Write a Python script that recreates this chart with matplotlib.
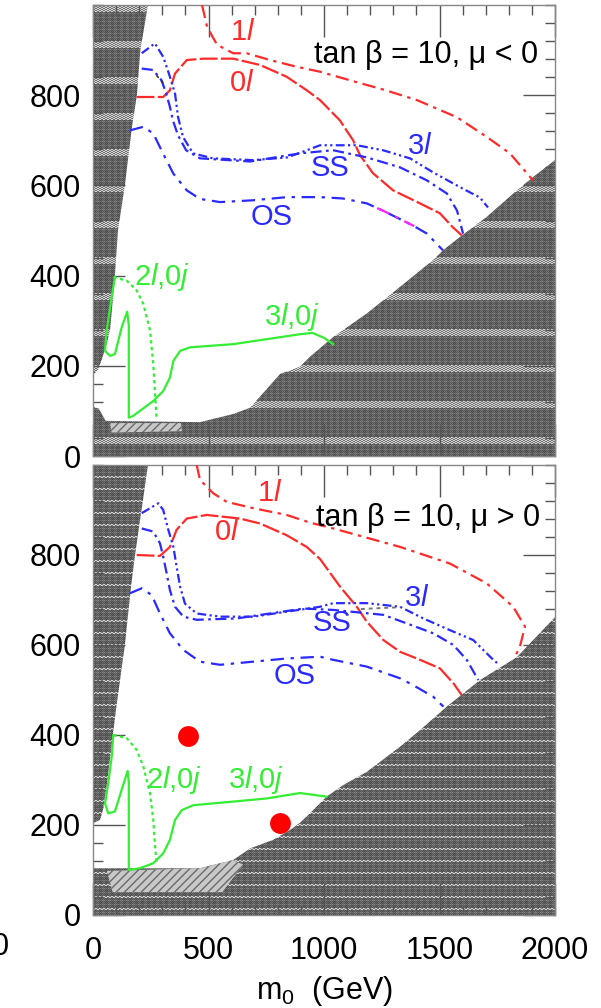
import numpy as np
import matplotlib
matplotlib.use("Agg")
from matplotlib import pyplot as plt
from matplotlib.patches import Polygon

plt.rcParams['font.family'] = ['Liberation Sans', 'DejaVu Sans']
plt.rcParams['mathtext.fontset'] = 'custom'
plt.rcParams['mathtext.rm'] = 'Liberation Sans'
plt.rcParams['mathtext.it'] = 'Liberation Sans:italic'

RED = '#ff2a2a'
BLUE = '#2a2aff'
GREEN = '#33ee33'

# ---------------- excluded regions (m0, m1/2) ----------------
left_top_x = [0, 238, 205, 190, 168, 138, 108, 95, 74, 52, 22, 0]
left_top_y = [1000, 1000, 900, 800, 727, 600, 500, 400, 279, 235, 191, 180]
bottom_top_x = [0, 0, 25, 55, 463, 606, 680, 810, 896, 939, 1040, 1185, 1329, 1473, 1517, 1589, 1704, 1819, 1906, 2000, 2000]
bottom_top_y = [0, 110, 105, 78, 75, 93, 107, 182, 198, 220, 264, 316, 375, 435, 457, 486, 530, 582, 619, 656, 0]
hatch_top_x = [74, 80, 385, 380]
hatch_top_y = [73, 52, 55, 73]

left_bot_x = [0, 238, 212, 182, 164, 138, 104, 87, 61, 43, 30, 0]
left_bot_y = [1000, 1000, 907, 800, 727, 600, 473, 404, 293, 233, 211, 204]
bottom_bot_x = [0, 0, 463, 606, 680, 780, 853, 896, 939, 1011, 1084, 1185, 1329, 1416, 1531, 1675, 1835, 2000, 2000]
bottom_bot_y = [0, 104, 104, 122, 148, 167, 189, 205, 226, 263, 289, 318, 374, 411, 463, 522, 573, 662, 0]
hatch_bot_x = [60, 85, 560, 650, 606, 463]
hatch_bot_y = [98, 51, 51, 112, 122, 104]

# ---------------- mu < 0 contours ----------------
neg_1l_x = [472, 494, 537, 607, 665, 766, 882, 983, 1113, 1260, 1403, 1576, 1706, 1805, 1905]
neg_1l_y = [1000, 951, 912, 893, 893, 878, 863, 852, 833, 812, 789, 751, 707, 671, 611]
neg_0l_x = [189, 304, 333, 355, 406, 478, 607, 723, 838, 925, 983, 1069, 1126, 1156, 1212, 1299, 1416, 1502, 1558, 1597]
neg_0l_y = [796, 796, 811, 848, 878, 881, 881, 867, 841, 811, 789, 744, 700, 667, 627, 589, 560, 538, 507, 489]
neg_3l_x = [211, 268, 304, 333, 355, 368, 390, 433, 519, 693, 840, 926, 983, 1039, 1143, 1255, 1372, 1472, 1589, 1675, 1710]
neg_3l_y = [893, 915, 885, 841, 804, 752, 707, 671, 660, 656, 662, 678, 689, 689, 689, 678, 660, 629, 596, 573, 551]
neg_ss_x = [211, 260, 297, 319, 333, 346, 368, 403, 463, 680, 896, 1039, 1186, 1329, 1446, 1532, 1576, 1602]
neg_ss_y = [859, 856, 833, 800, 774, 744, 711, 678, 660, 653, 671, 678, 662, 640, 611, 582, 544, 493]
neg_os_x = [160, 218, 261, 304, 348, 406, 463, 550, 693, 840, 983, 1082, 1186, 1255, 1385, 1446, 1515]
neg_os_y = [722, 730, 715, 670, 626, 589, 570, 563, 567, 574, 574, 571, 560, 544, 511, 493, 456]
neg_os_magenta = (1230, 1390)
neg_2l_x = [88, 146, 189, 218, 247, 261, 268, 275]
neg_2l_y = [396, 389, 367, 337, 278, 204, 144, 85]
neg_3l0j_x = [95, 81, 59, 52, 74, 95, 124, 148, 155, 155, 174, 261, 304, 333, 348, 377, 420, 607, 896, 950, 1000, 1040]
neg_3l0j_y = [397, 353, 278, 233, 222, 226, 285, 320, 290, 85, 89, 122, 144, 174, 211, 233, 241, 248, 270, 273, 262, 248]
neg_black_x = [275, 312]
neg_black_y = [844, 822]

# ---------------- mu > 0 contours ----------------
pos_1l_x = [449, 463, 521, 579, 694, 838, 939, 1040, 1329, 1545, 1704, 1819, 1870, 1848, 1827]
pos_1l_y = [1000, 967, 937, 918, 904, 889, 872, 859, 818, 781, 737, 685, 641, 596, 574]
pos_0l_x = [189, 290, 333, 362, 406, 492, 636, 723, 838, 925, 983, 1069, 1142, 1185, 1257, 1329, 1416, 1502, 1560, 1596]
pos_0l_y = [800, 798, 818, 856, 881, 889, 881, 870, 844, 818, 791, 730, 685, 652, 611, 585, 567, 548, 515, 489]
pos_3l_x = [211, 283, 304, 326, 348, 362, 377, 398, 449, 550, 694, 838, 983, 1040, 1185, 1329, 1430, 1545, 1646, 1733, 1749]
pos_3l_y = [893, 915, 900, 856, 818, 774, 730, 692, 670, 663, 663, 674, 685, 693, 693, 685, 659, 633, 611, 567, 560]
pos_ss_x = [211, 261, 290, 304, 319, 333, 355, 391, 449, 622, 766, 911, 1039, 1257, 1358, 1473, 1560, 1618, 1668]
pos_ss_y = [859, 852, 826, 796, 759, 722, 685, 663, 656, 659, 670, 681, 678, 667, 648, 626, 600, 567, 522]
pos_os_x = [160, 211, 254, 290, 333, 391, 463, 550, 694, 838, 983, 1040, 1185, 1329, 1385, 1473, 1517]
pos_os_y = [715, 726, 711, 670, 626, 589, 563, 556, 563, 570, 574, 567, 552, 526, 511, 485, 463]
pos_2l_x = [88, 146, 189, 218, 247, 261, 268, 275]
pos_2l_y = [400, 393, 367, 330, 270, 211, 159, 115]
pos_3l0j_x = [88, 81, 66, 52, 66, 95, 124, 150, 155, 155, 203, 261, 304, 333, 355, 384, 434, 607, 752, 896, 1011]
pos_3l0j_y = [400, 352, 293, 248, 226, 230, 278, 320, 295, 100, 104, 115, 137, 167, 211, 233, 244, 252, 259, 271, 263]
pos_grey_x = [1160, 1330]
pos_grey_y = [680, 684]
points_x = [410, 808]
points_y = [397, 204]

labels_neg = [('1$l$', 649, 940, RED), ('0$l$', 645, 827, RED), ('3$l$', 1416, 687, BLUE),
              ('SS', 1026, 638, BLUE), ('OS', 774, 530, BLUE),
              ('2$l$,0$j$', 300, 397, GREEN), ('3$l$,0$j$', 862, 308, GREEN)]
labels_pos = [('1$l$', 766, 938, RED), ('0$l$', 580, 851, RED), ('3$l$', 1401, 704, BLUE),
              ('SS', 1033, 648, BLUE), ('OS', 874, 531, BLUE),
              ('2$l$,0$j$', 350, 300, GREEN), ('3$l$,0$j$', 705, 300, GREEN)]


def texture(period):
    r, c = np.mgrid[0:451, 0:462]
    chk = (r + c) % 2
    tex = 0.28 + 0.12 * chk + 0.05 * ((c // 3) % 2) + 0.08 * ((r % 4) == 0)
    band = (r % period) < max(2, period // 5)
    tex = np.where(band, 0.45 + 0.38 * ((r + c // 2) % 2), tex)
    return tex


def grey_region(ax, xs, ys, tex):
    poly = Polygon(np.column_stack([xs, ys]), closed=True, transform=ax.transData)
    im = ax.imshow(tex, cmap='gray', vmin=0, vmax=1, extent=(0, 2000, 0, 1000),
                   aspect='auto', interpolation='nearest', zorder=1)
    im.set_clip_path(poly)


def hatch_region(ax, xs, ys):
    ax.add_patch(Polygon(np.column_stack([xs, ys]), closed=True, facecolor='#c8c8c8',
                         edgecolor='#6a6a6a', hatch='////', lw=0, zorder=2))


def style_axes(ax, show_x):
    ax.set_xlim(0, 2000)
    ax.set_ylim(0, 1000)
    ax.set_xticks([0, 500, 1000, 1500, 2000])
    ax.set_xticks(np.arange(0, 2001, 100), minor=True)
    ax.set_yticks([0, 200, 400, 600, 800])
    ax.set_yticks(np.arange(0, 1001, 40), minor=True)
    ax.tick_params(which='both', direction='in', top=True, right=True, color='#555555', width=1)
    ax.tick_params(which='major', length=23, labelsize=22)
    ax.tick_params(which='minor', length=7)
    ax.tick_params(axis='y', pad=9)
    ax.tick_params(axis='x', pad=15, labelbottom=show_x)
    for s in ax.spines.values():
        s.set_color('#888888')
        s.set_linewidth(1)


fig = plt.figure(figsize=(6.01, 10.08), dpi=100)
ax1 = fig.add_axes([93 / 601, 552 / 1008, 462 / 601, 451 / 1008])
ax2 = fig.add_axes([93 / 601, 93 / 1008, 462 / 601, 450 / 1008])

ls_1l = (0, (6, 2.5, 1.5, 2.5))
ls_0l = (0, (8, 1.5))
ls_3l = (0, (4, 1.5, 1, 1.5, 1, 1.5))
ls_ss = (0, (5, 2, 1.2, 2))
ls_os = (0, (6, 3, 1.5, 3))
lw = 1.6
fs_lab = 21

# top panel, mu < 0
tex1 = texture(36)
grey_region(ax1, left_top_x, left_top_y, tex1)
grey_region(ax1, bottom_top_x, bottom_top_y, tex1)
hatch_region(ax1, hatch_top_x, hatch_top_y)
ax1.plot(neg_1l_x, neg_1l_y, color=RED, lw=lw, ls=ls_1l, zorder=3)
ax1.plot(neg_0l_x, neg_0l_y, color=RED, lw=lw, ls=ls_0l, zorder=3)
ax1.plot(neg_3l_x, neg_3l_y, color=BLUE, lw=lw, ls=ls_3l, zorder=3)
ax1.plot(neg_ss_x, neg_ss_y, color=BLUE, lw=lw, ls=ls_ss, zorder=3)
ax1.plot(neg_os_x, neg_os_y, color=BLUE, lw=lw, ls=ls_os, zorder=3)
ox = np.array(neg_os_x)
mx = np.concatenate([[neg_os_magenta[0]], ox[(ox > neg_os_magenta[0]) & (ox < neg_os_magenta[1])], [neg_os_magenta[1]]])
my = np.interp(mx, neg_os_x, neg_os_y)
ax1.plot(mx, my, color='#ff22ff', lw=lw, ls=ls_os, zorder=4)
ax1.plot(neg_black_x, neg_black_y, color='#333333', lw=1.2, ls=(0, (2, 2)), zorder=4)
ax1.plot(neg_2l_x, neg_2l_y, color=GREEN, lw=lw, ls=(0, (1.5, 1.5)), zorder=3)
ax1.plot(neg_3l0j_x, neg_3l0j_y, color=GREEN, lw=lw, zorder=3)
for txt, x, y, c in labels_neg:
    ax1.text(x, y, txt, color=c, fontsize=fs_lab, ha='center', va='center', zorder=5)
ax1.text(1925, 889, 'tan β = 10, μ < 0', fontsize=22, ha='right', va='center', zorder=5)
style_axes(ax1, False)

# bottom panel, mu > 0
tex2 = texture(12)
grey_region(ax2, left_bot_x, left_bot_y, tex2)
grey_region(ax2, bottom_bot_x, bottom_bot_y, tex2)
hatch_region(ax2, hatch_bot_x, hatch_bot_y)
ax2.plot(pos_1l_x, pos_1l_y, color=RED, lw=lw, ls=ls_1l, zorder=3)
ax2.plot(pos_0l_x, pos_0l_y, color=RED, lw=lw, ls=ls_0l, zorder=3)
ax2.plot(pos_3l_x, pos_3l_y, color=BLUE, lw=lw, ls=ls_3l, zorder=3)
ax2.plot(pos_ss_x, pos_ss_y, color=BLUE, lw=lw, ls=ls_ss, zorder=3)
ax2.plot(pos_os_x, pos_os_y, color=BLUE, lw=lw, ls=ls_os, zorder=3)
ax2.plot(pos_grey_x, pos_grey_y, color='#777777', lw=1.4, ls=(0, (2, 2)), zorder=4)
ax2.plot(pos_2l_x, pos_2l_y, color=GREEN, lw=lw, ls=(0, (1.5, 1.5)), zorder=3)
ax2.plot(pos_3l0j_x, pos_3l0j_y, color=GREEN, lw=lw, zorder=3)
ax2.plot(points_x, points_y, 'o', color='#ff0000', ms=15, mec='none', zorder=6)
for txt, x, y, c in labels_pos:
    ax2.text(x, y, txt, color=c, fontsize=fs_lab, ha='center', va='center', zorder=5)
ax2.text(1935, 882, 'tan β = 10, μ > 0', fontsize=22, ha='right', va='center', zorder=5)
style_axes(ax2, True)
ax2.set_xlabel('m$_0$  (GeV)', fontsize=22, labelpad=6)

# piece of the neighbouring figure's tick label
fig.text(0.0, 1 - 947 / 1008, '0', fontsize=22, ha='center', va='center')

fig.savefig('out.png', dpi=100)
